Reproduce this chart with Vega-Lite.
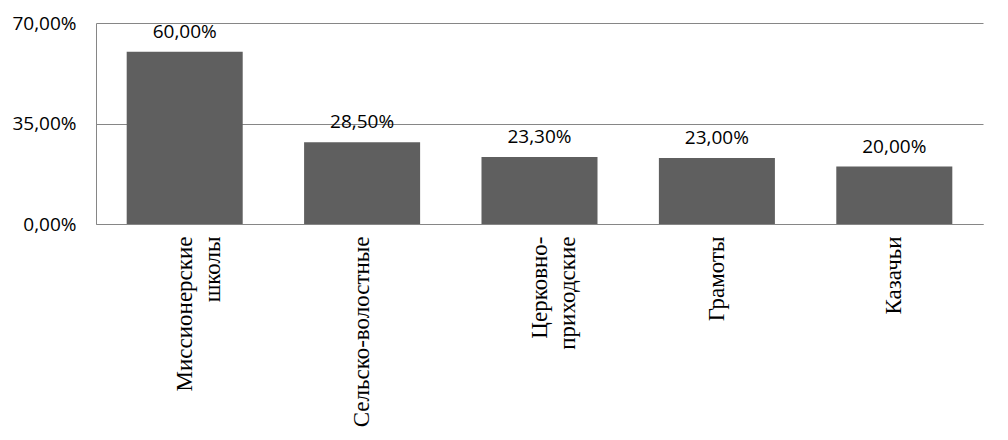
{
  "$schema": "https://vega.github.io/schema/vega-lite/v6.json",
  "width": 887,
  "height": 201,
  "autosize": {"type": "none"},
  "padding": {"left": 96, "top": 23, "right": 25, "bottom": 216},
  "background": "#ffffff",
  "config": {
    "view": {"stroke": null},
    "locale": {"number": {"decimal": ",", "thousands": " ", "grouping": [3], "currency": ["", ""]}}
  },
  "data": {
    "values": [
      {"cat": "Миссионерские школы", "value": 0.60},
      {"cat": "Сельско-волостные", "value": 0.285},
      {"cat": "Церковно-приходские", "value": 0.233},
      {"cat": "Грамоты", "value": 0.23},
      {"cat": "Казачьи", "value": 0.20}
    ]
  },
  "encoding": {
    "x": {
      "field": "cat",
      "type": "nominal",
      "sort": null,
      "scale": {"paddingInner": 0.346, "paddingOuter": 0.173},
      "axis": {
        "title": null,
        "labelAngle": -90,
        "labelAlign": "right",
        "labelBaseline": "middle",
        "labelPadding": 12,
        "labelFont": "Liberation Serif",
        "labelFontSize": 23,
        "labelLineHeight": 28,
        "labelColor": "#000000",
        "labelLimit": 300,
        "ticks": false,
        "domainColor": "#868686",
        "domainWidth": 1,
        "labelExpr": "datum.label == 'Миссионерские школы' ? ['Миссионерские', 'школы\u2007\u2007\u2007\u2007'] : datum.label == 'Церковно-приходские' ? ['Церковно-', 'приходские'] : datum.label"
      }
    },
    "y": {
      "field": "value",
      "type": "quantitative",
      "scale": {"domain": [0, 0.7], "nice": false},
      "axis": {
        "title": null,
        "values": [0, 0.35, 0.7],
        "format": ".2%",
        "grid": true,
        "gridColor": "#868686",
        "gridWidth": 1,
        "domainColor": "#868686",
        "ticks": false,
        "labelPadding": 20,
        "labelFont": "Open Sans",
        "labelFontSize": 19,
        "labelColor": "#000000"
      }
    }
  },
  "layer": [
    {"mark": {"type": "bar", "color": "#5f5f5f"}},
    {
      "mark": {"type": "text", "baseline": "alphabetic", "dy": -14, "font": "Open Sans", "fontSize": 19, "color": "#000000"},
      "encoding": {
        "text": {"field": "value", "type": "quantitative", "format": ".2%"}
      }
    }
  ]
}
